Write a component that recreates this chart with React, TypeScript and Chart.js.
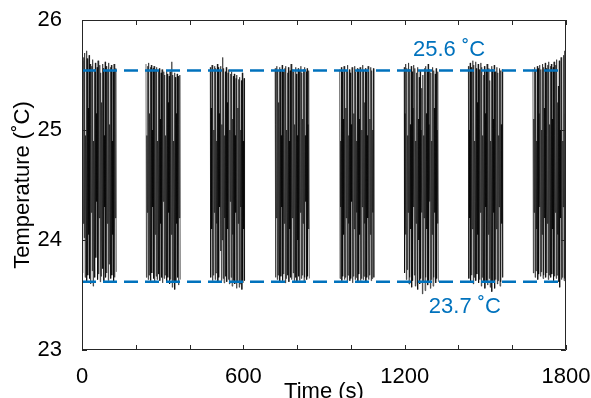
import React, { useEffect, useRef } from 'react';
import { Chart, registerables } from 'chart.js';

Chart.register(...registerables);

// Burst start times and durations (s)
const burstStarts = [0, 238, 477, 718, 958, 1198, 1437, 1677];
const burstDurations = [127.5, 127.5, 127.5, 127.5, 127.5, 127.5, 127.5, 122.5];

// Full-swing temperature readings (°C) for each burst (alternating peak / trough)
const burst1 = [25.63, 23.70, 25.66, 24.02, 25.70, 23.66, 25.72, 23.62, 25.65, 23.68, 25.68, 23.65, 25.60, 23.60, 25.58, 23.72, 25.64, 23.58, 25.55, 23.66, 25.61, 23.84, 25.57, 23.64, 25.63, 23.69, 25.59, 23.62, 25.52, 23.67, 25.60, 23.74, 25.56, 23.61, 25.62, 23.66, 25.58, 23.70, 25.54, 23.63, 25.61, 23.78, 25.57, 23.65, 25.59, 23.68, 25.53, 23.62, 25.60, 23.66, 25.56, 23.71];
const burst2 = [25.60, 23.66, 25.58, 23.64, 25.61, 23.68, 25.57, 23.63, 25.59, 23.70, 25.56, 23.65, 25.58, 23.62, 25.55, 23.67, 25.57, 23.64, 25.54, 23.69, 25.56, 23.63, 25.52, 23.66, 25.55, 23.61, 25.53, 23.65, 25.50, 23.68, 25.54, 23.62, 25.51, 23.66, 25.49, 23.60, 25.53, 23.64, 25.62, 23.57, 25.50, 23.63, 25.52, 23.55, 25.48, 23.61, 25.51, 23.66, 25.49, 23.59, 25.50, 23.64];
const burst3 = [25.57, 23.66, 25.59, 23.63, 25.55, 23.68, 25.58, 23.64, 25.56, 23.70, 25.60, 23.62, 25.57, 23.66, 25.54, 23.90, 25.58, 23.63, 25.66, 23.65, 25.56, 23.61, 25.53, 23.67, 25.57, 23.62, 25.52, 23.64, 25.55, 23.60, 25.51, 23.66, 25.53, 23.58, 25.49, 23.63, 25.51, 23.60, 25.47, 23.56, 25.50, 23.62, 25.46, 23.57, 25.48, 23.60, 25.45, 23.55, 25.52, 23.61, 25.47, 23.63];
const burst4 = [25.56, 23.66, 25.58, 23.64, 25.54, 23.68, 25.57, 23.62, 25.55, 23.67, 25.59, 23.63, 25.53, 23.69, 25.56, 23.61, 25.58, 23.65, 25.52, 23.68, 25.57, 23.62, 25.54, 23.66, 25.60, 23.64, 25.55, 23.70, 25.53, 23.63, 25.57, 23.66, 25.51, 23.61, 25.56, 23.67, 25.54, 23.63, 25.58, 23.65, 25.52, 23.68, 25.55, 23.62, 25.57, 23.66, 25.53, 23.64, 25.56, 23.67, 25.54, 23.65];
const burst5 = [25.55, 23.65, 25.57, 23.63, 25.53, 23.67, 25.58, 23.64, 25.56, 23.66, 25.54, 23.62, 25.59, 23.68, 25.55, 23.63, 25.52, 23.65, 25.57, 23.61, 25.54, 23.67, 25.58, 23.64, 25.53, 23.66, 25.56, 23.62, 25.55, 23.69, 25.57, 23.63, 25.52, 23.65, 25.59, 23.64, 25.54, 23.67, 25.56, 23.62, 25.53, 23.66, 25.58, 23.64, 25.55, 23.68, 25.57, 23.63, 25.54, 23.65, 25.56, 23.66];
const burst6 = [25.57, 23.70, 25.60, 23.64, 25.56, 23.73, 25.61, 23.60, 25.55, 23.66, 25.58, 23.57, 25.53, 23.63, 25.59, 23.68, 25.56, 23.58, 25.52, 23.62, 25.57, 23.55, 25.48, 23.60, 25.54, 23.65, 25.38, 23.51, 25.50, 23.62, 25.56, 23.54, 25.58, 23.66, 25.53, 23.59, 25.60, 23.63, 25.55, 23.56, 25.52, 23.64, 25.57, 23.58, 25.54, 23.66, 25.51, 23.61, 25.56, 23.65, 25.53, 23.62];
const burst7 = [25.58, 23.65, 25.61, 23.62, 25.57, 23.68, 25.63, 23.60, 25.59, 23.66, 25.62, 23.63, 25.56, 23.69, 25.60, 23.61, 25.55, 23.64, 25.61, 23.58, 25.57, 23.66, 25.50, 23.62, 25.58, 23.56, 25.54, 23.63, 25.60, 23.59, 25.56, 23.65, 25.45, 23.57, 25.58, 23.53, 25.55, 23.61, 25.59, 23.56, 25.53, 23.64, 25.57, 23.60, 25.52, 23.63, 25.56, 23.58, 25.54, 23.62, 25.55, 23.66];
const burst8 = [25.55, 23.70, 25.57, 23.66, 25.54, 23.72, 25.58, 23.64, 25.56, 23.69, 25.59, 23.67, 25.55, 23.71, 25.60, 23.65, 25.57, 23.68, 25.61, 23.66, 25.56, 23.70, 25.59, 23.64, 25.62, 23.68, 25.58, 23.66, 25.60, 23.69, 25.57, 23.63, 25.62, 23.67, 25.59, 23.65, 25.64, 23.68, 25.40, 23.62, 25.63, 23.57, 25.66, 23.64, 25.62, 23.66, 25.68, 23.63, 25.72, 23.65];

// Smaller-swing readings in between (alternating upper / lower)
const inner1 = [25.10, 24.15, 24.95, 24.30, 25.20, 24.05, 25.05, 24.25, 24.90, 24.10, 25.15, 24.35, 25.00, 24.20, 25.25, 24.00, 24.95, 24.30, 25.10, 24.15, 25.05, 24.25, 24.90, 24.05, 25.15, 24.20];
const inner2 = [24.95, 24.25, 25.15, 24.10, 25.00, 24.30, 25.20, 24.05, 24.90, 24.20, 25.10, 24.15, 25.05, 24.35, 24.95, 24.10, 25.25, 24.25, 25.00, 24.05, 24.90, 24.30, 25.15, 24.15, 25.05, 24.20];
const inner3 = [25.20, 24.10, 25.00, 24.25, 24.90, 24.15, 25.15, 24.30, 25.05, 24.00, 24.95, 24.20, 25.25, 24.10, 25.00, 24.35, 25.10, 24.05, 24.95, 24.25, 25.20, 24.15, 25.00, 24.30, 24.90, 24.10];
const inner4 = [25.05, 24.20, 25.25, 24.05, 24.95, 24.30, 25.10, 24.15, 25.00, 24.25, 24.90, 24.10, 25.15, 24.20, 25.05, 24.30, 24.95, 24.00, 25.20, 24.25, 25.10, 24.15, 24.95, 24.35, 25.05, 24.10];
const inner5 = [24.90, 24.30, 25.10, 24.05, 25.20, 24.20, 24.95, 24.15, 25.05, 24.35, 25.15, 24.10, 24.90, 24.25, 25.10, 24.05, 25.00, 24.30, 25.25, 24.15, 24.95, 24.20, 25.10, 24.05, 25.00, 24.25];
const inner6 = [25.15, 24.05, 24.95, 24.25, 25.05, 24.10, 25.20, 24.30, 24.90, 24.15, 25.10, 24.00, 25.00, 24.25, 24.95, 24.20, 25.15, 24.10, 25.05, 24.35, 24.90, 24.05, 25.20, 24.25, 25.00, 24.15];
const inner7 = [25.00, 24.20, 25.10, 24.10, 24.90, 24.35, 25.25, 24.05, 25.05, 24.25, 24.95, 24.15, 25.15, 24.30, 25.00, 24.05, 24.90, 24.20, 25.10, 24.25, 25.20, 24.10, 24.95, 24.30, 25.05, 24.15];
const inner8 = [25.10, 24.25, 24.90, 24.10, 25.15, 24.30, 25.00, 24.05, 25.20, 24.20, 24.95, 24.15, 25.05, 24.35, 25.10, 24.10, 24.95, 24.25, 25.25, 24.05, 25.00, 24.20, 24.90, 24.30, 25.15, 24.10];

const bursts = [burst1, burst2, burst3, burst4, burst5, burst6, burst7, burst8];
const inners = [inner1, inner2, inner3, inner4, inner5, inner6, inner7, inner8];

// Reference limits
const upperLimit = 25.54;
const lowerLimit = 23.62;
const upperLabel = '25.6 \u02DAC';
const lowerLabel = '23.7 \u02DAC';
const upperLabelTime = 1365;
const lowerLabelTime = 1424;

// Axes
const xMin = 0;
const xMax = 1800;
const xMinorStep = 200;
const xLabelTicks = [0, 600, 1200, 1800];
const yMin = 23;
const yMax = 26;
const yStep = 1;
const xTitle = 'Time (s)';
const yTitle = 'Temperature (\u02DAC)';

const FONT = '"Liberation Sans", Arial, Helvetica, sans-serif';
const BLUE = '#0072BD';
const AXIS = '#262626';

const noPad = (s: any) => {
  s.paddingTop = 0;
  s.paddingBottom = 0;
  s.paddingLeft = 0;
  s.paddingRight = 0;
};

export default function App() {
  const ref = useRef<HTMLCanvasElement | null>(null);

  useEffect(() => {
    if (!ref.current) return;
    const points: { x: number; y: number | null }[] = [];
    bursts.forEach((b, k) => {
      const seq: number[] = [];
      let j = 0;
      b.forEach((v, i) => {
        seq.push(v);
        if (i % 4 === 1 && j + 1 < inners[k].length) {
          seq.push(inners[k][j], inners[k][j + 1]);
          j += 2;
        }
      });
      const dt = burstDurations[k] / (seq.length - 1);
      seq.forEach((v, i) => points.push({ x: burstStarts[k] + i * dt, y: v }));
      points.push({ x: burstStarts[k] + burstDurations[k] + dt, y: null });
    });

    const decor = {
      id: 'decor',
      afterDraw(chart: any) {
        const ctx = chart.ctx;
        const { left, right, top, bottom } = chart.chartArea;
        const xs = chart.scales.x;
        const ys = chart.scales.y;
        ctx.save();
        ctx.strokeStyle = AXIS;
        ctx.lineWidth = 1;
        ctx.beginPath();
        ctx.rect(left + 0.5, top + 0.5, right - left - 1, bottom - top - 1);
        ctx.stroke();
        const tl = 5;
        ctx.beginPath();
        xs.ticks.forEach((t: any) => {
          const px = Math.round(xs.getPixelForValue(t.value)) + 0.5;
          ctx.moveTo(px, bottom);
          ctx.lineTo(px, bottom - tl);
          ctx.moveTo(px, top);
          ctx.lineTo(px, top + tl);
        });
        ys.ticks.forEach((t: any) => {
          const py = Math.round(ys.getPixelForValue(t.value)) + 0.5;
          ctx.moveTo(left, py);
          ctx.lineTo(left + tl, py);
          ctx.moveTo(right, py);
          ctx.lineTo(right - tl, py);
        });
        ctx.stroke();

        ctx.font = `22px ${FONT}`;
        ctx.fillStyle = BLUE;
        ctx.textAlign = 'center';
        ctx.textBaseline = 'alphabetic';
        ctx.fillText(upperLabel, xs.getPixelForValue(upperLabelTime), ys.getPixelForValue(upperLimit) - 15);
        ctx.fillText(lowerLabel, xs.getPixelForValue(lowerLabelTime), ys.getPixelForValue(lowerLimit) + 31);

        ctx.fillStyle = '#000';
        ctx.fillText(xTitle, 324, 398);
        ctx.translate(29, 185);
        ctx.rotate(-Math.PI / 2);
        ctx.fillText(yTitle, 0, 0);
        ctx.restore();
      },
    };

    const chart = new Chart(ref.current, {
      type: 'line',
      data: {
        datasets: [
          {
            data: [{ x: xMin, y: upperLimit }, { x: xMax, y: upperLimit }],
            borderColor: BLUE,
            borderWidth: 2.5,
            borderDash: [14, 7],
            pointRadius: 0,
            order: 0,
          },
          {
            data: [{ x: xMin, y: lowerLimit }, { x: xMax, y: lowerLimit }],
            borderColor: BLUE,
            borderWidth: 2.5,
            borderDash: [14, 7],
            pointRadius: 0,
            order: 0,
          },
          {
            data: points,
            borderColor: 'rgba(0,0,0,0.72)',
            borderWidth: 0.8,
            pointRadius: 0,
            spanGaps: false,
            tension: 0,
            order: 1,
          },
        ],
      },
      options: {
        animation: false,
        responsive: true,
        maintainAspectRatio: false,
        layout: { padding: { top: 20, right: 25, left: 0, bottom: 0 } },
        plugins: { legend: { display: false }, tooltip: { enabled: false } },
        elements: { line: { borderCapStyle: 'butt' } },
        scales: {
          x: {
            type: 'linear',
            min: xMin,
            max: xMax,
            border: { display: false },
            grid: { display: false, drawTicks: false },
            afterFit: (s: any) => { s.height = 48; noPad(s); },
            ticks: {
              stepSize: xMinorStep,
              autoSkip: false,
              maxRotation: 0,
              padding: 14,
              color: '#000',
              font: { size: 22, family: FONT },
              callback: (v: any) => (xLabelTicks.includes(Number(v)) ? String(v) : ''),
            },
          },
          y: {
            type: 'linear',
            min: yMin,
            max: yMax,
            border: { display: false },
            grid: { display: false, drawTicks: false },
            afterFit: (s: any) => { s.width = 82; noPad(s); },
            ticks: {
              stepSize: yStep,
              padding: 20,
              color: '#000',
              font: { size: 22, family: FONT },
            },
          },
        },
      },
      plugins: [decor],
    });
    return () => chart.destroy();
  }, []);

  return (
    <div style={{ position: 'fixed', left: 0, top: 0, width: 591, height: 398, background: '#fff' }}>
      <canvas ref={ref} />
    </div>
  );
}
